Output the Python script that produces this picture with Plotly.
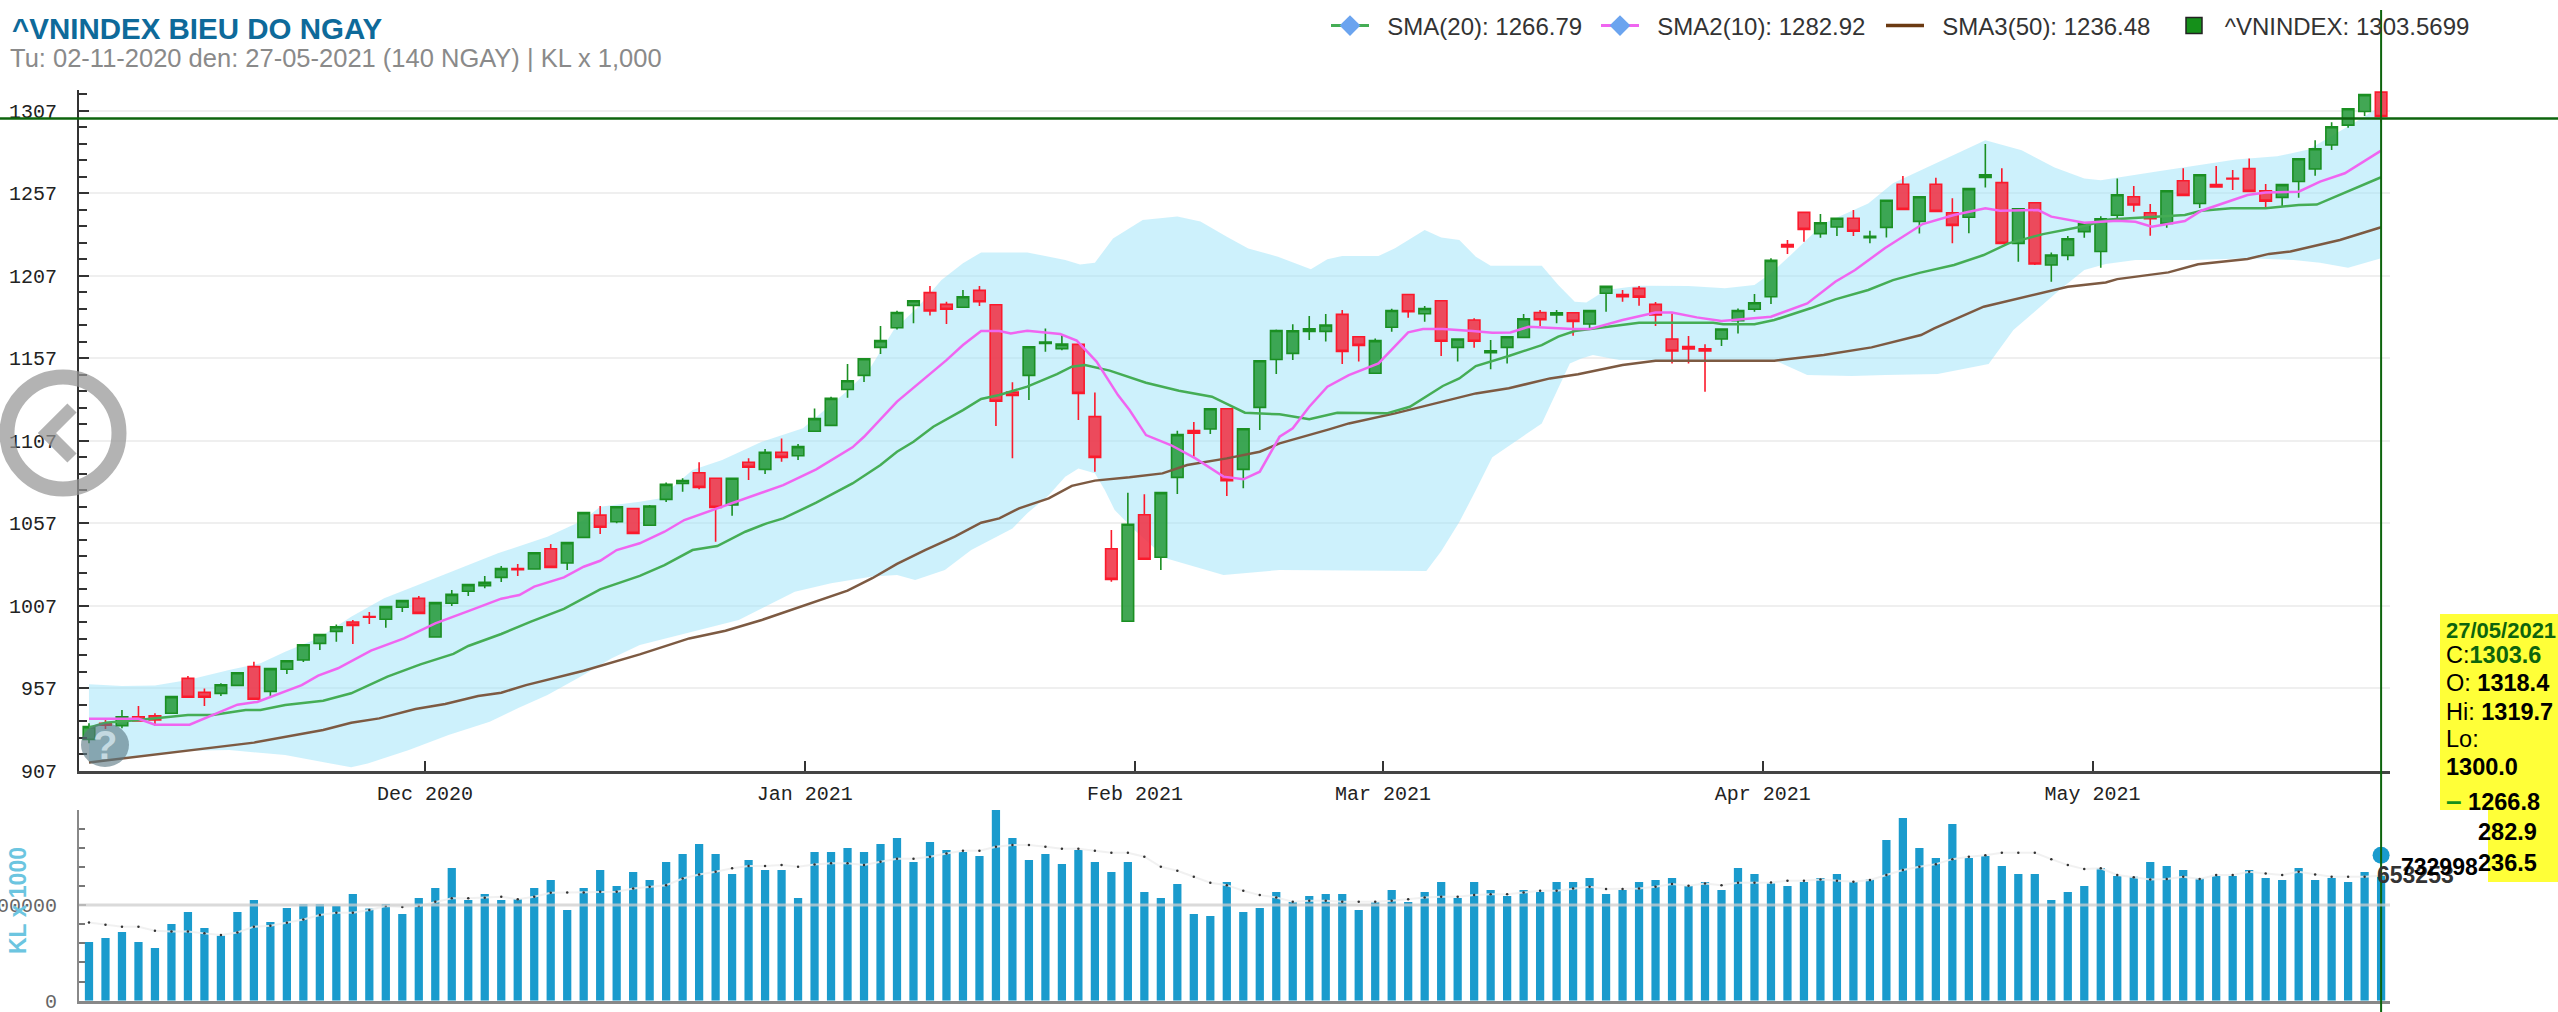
import plotly.graph_objects as go

W, H = 2558, 1012

# daily candles
opens = [925.9,935.6,934.2,939.6,940.1,941.7,962.9,954.4,953.8,958.6,970.0,955.0,968.4,974.0,984.1,991.4,997.1,1000.3,998.7,1006.0,
         1011.4,988.0,1008.4,1015.7,1019.1,1024.1,1029.4,1029.2,1041.5,1032.8,1048.4,1061.9,1057.9,1065.8,1055.7,1071.4,1081.1,1087.6,1084.2,1068.0,
         1093.9,1089.6,1100,1097.9,1112.7,1116.3,1138.1,1146.6,1163.6,1175.5,1189.1,1196.8,1189.7,1187.9,1198.2,1189.5,1136.5,1146.6,1166,1162.8,
         1165.4,1121.6,1041.5,997.5,1062.1,1036.3,1084.8,1113.1,1114.1,1126.4,1089.6,1127.2,1156.3,1160,1173.3,1173.3,1183.6,1170.1,1147.9,1175.8,
         1195.7,1184,1191.9,1163.6,1180.2,1160.4,1163.6,1169.7,1184.8,1183.2,1184.6,1177.8,1196.4,1195.6,1199.4,1189.7,1168.7,1164.1,1162.8,1168.7,
         1179.8,1186.7,1194.3,1225.9,1245.5,1232.6,1236.6,1241.9,1230.2,1236.4,1262.5,1240,1262.5,1245.3,1242.5,1266.7,1263.5,1226.7,1251.3,1213.6,
         1219.4,1233.8,1221.8,1243.7,1255,1245.3,1238.8,1264.7,1250.9,1262.3,1266.2,1272,1258.6,1254.6,1264.2,1271.8,1286.3,1298.4,1306.7,1318.4]
highs = [935.6,937.6,943.7,946.1,941.7,952.2,964.3,956.8,959.9,966.6,973.0,969.0,974.0,983.7,989.8,995.6,998.3,1003.1,1006.8,1010.4,
         1012.8,1009.2,1016.5,1020.1,1024.9,1031.0,1032.2,1039.5,1044.4,1045.6,1063.8,1067.4,1067.4,1066.4,1068.0,1081.7,1084.2,1093.9,1084.5,1084.5,
         1096.3,1102,1108.4,1105,1126.6,1133.7,1153.5,1157,1176.6,1185.8,1192,1200.9,1191.3,1198.4,1200.9,1189.8,1142.4,1164.4,1175.1,1171.5,
         1165.8,1136.3,1052.8,1075.5,1074.5,1075.9,1113.1,1118.3,1126.8,1126.8,1114.7,1155.9,1174.4,1177.6,1182.6,1183.8,1186.3,1170.5,1169,1187,
         1196,1188.7,1192.3,1169,1181.2,1168.1,1170.5,1183.8,1186.3,1186.3,1185,1186.2,1201,1198.4,1200.8,1191.1,1184.2,1170.5,1165.5,1175.2,
         1187.2,1196,1217.6,1228.7,1245.9,1244.5,1242.3,1246.9,1234.4,1253.2,1267.5,1255.4,1266.5,1254,1260.3,1286.9,1272.2,1248,1251.7,1221.2,
         1231.1,1239.2,1243.2,1266.1,1261.5,1250.5,1259,1272.2,1268.7,1273.6,1271.2,1278.2,1262.7,1262.7,1278.4,1289.3,1300.2,1308.7,1317.2,1319.7]
lows = [923.5,932.2,932.6,936.6,934.2,941.2,951.2,946.1,952.2,958.2,949.8,952.2,965.5,972.8,980.1,985.1,983.7,995.8,993.6,1003.1,
        1001.9,987.6,1006.8,1012.8,1017.5,1021.3,1024.9,1029.0,1029.8,1028.6,1048.0,1050.4,1056.9,1050.4,1055.3,1069.8,1076.1,1077.5,1045.8,1061.5,
        1083.2,1086.8,1094.3,1095.3,1112.3,1116,1133.1,1142.6,1159.6,1174.5,1178.2,1182.9,1177.8,1187.5,1188.7,1115.9,1096.3,1131.7,1161,1161.9,
        1119.5,1088.2,1021.5,997.2,1034.7,1028.6,1074.7,1097.3,1111.1,1073.5,1078.1,1113.5,1147.4,1155.9,1168.1,1167.1,1153.5,1155,1147.5,1173.1,
        1181.6,1179.2,1158.4,1155,1163.4,1150.3,1153.9,1169.3,1176.6,1178.2,1170.7,1175,1185.2,1191.3,1188.9,1176.6,1153.9,1153.9,1136.7,1164.4,
        1172.1,1185.2,1189.9,1220.2,1227.7,1230.1,1231.1,1231.1,1226.7,1230.3,1247,1232.7,1246,1226.7,1232.8,1260.6,1226.3,1215.6,1213.5,1203.4,
        1216.5,1230.1,1211.9,1241.9,1245.9,1231.3,1236.2,1255.4,1248.1,1260.5,1259,1257.8,1247.9,1249,1254.4,1267.7,1283.3,1296.8,1304,1300]
closes = [933.6,934.4,939.6,937.0,937.6,951.8,951.4,951.4,959.0,966.3,950.2,968.8,973.6,983.3,989.4,994.2,995.0,999.9,1006.4,1010.0,
          1002.3,1008.8,1013.8,1019.7,1021.1,1029.4,1028.8,1039.1,1030.2,1045.2,1063.4,1054.5,1067.0,1050.8,1067.4,1080.5,1082.9,1078.7,1066.6,1084.2,
          1090.9,1100,1096.9,1103.4,1120.4,1132.7,1143.4,1156.7,1167.7,1184.8,1191.9,1185.7,1186.7,1194.3,1191.3,1130.9,1134.5,1164,1166.9,1165.6,
          1135.7,1096.9,1022.9,1056.3,1035.1,1075.5,1110.7,1111.5,1126.4,1082.8,1114.3,1155.5,1173.8,1173.7,1174.9,1177.2,1161.2,1164.8,1167.7,1186,
          1185.2,1187.2,1167.3,1168.7,1167.3,1161.6,1170.1,1181,1180.4,1184.6,1179.4,1185.9,1200.6,1194.4,1194.1,1183.2,1161.4,1162.7,1161.4,1174.8,
          1186,1190.7,1216.4,1224.5,1235.2,1239.2,1241.9,1234,1231,1252.8,1247.3,1255,1246.1,1237.6,1259.9,1268.3,1226.7,1247.7,1214.2,1219.6,
          1229.5,1238.8,1241.6,1256.2,1250,1241.7,1258.6,1255.8,1268.3,1260.9,1265.8,1258.2,1252.3,1262.3,1278,1284.1,1297.4,1308.3,1316.9,1303.6]
days = list(range(len(closes)))

# volume and its average
volume = [306600,327500,358900,306600,275200,400700,463400,379800,339700,463400,526100,411100,484300,505200,505200,494700,557400,482500,505200,452900,
          536500,588800,693300,526100,557400,526100,531300,588800,630600,473800,588800,682900,599200,672400,630600,724700,766500,818700,766500,662000,
          735100,682900,682900,536500,777000,777000,797800,777000,818700,850100,724700,829200,787400,777000,756000,996400,850100,735100,766500,714200,
          787400,724700,672400,724700,567900,536500,609700,452900,442500,620200,463400,484300,567900,515600,547000,557400,557400,473800,515600,578300,
          515600,567900,620200,536500,620200,578300,547000,578300,567900,620200,620200,641100,557400,578300,620200,630600,641100,599200,620200,578300,
          693300,662000,613000,599200,620200,641100,662000,620200,634000,839600,954600,797800,745600,923300,745600,756000,703800,662000,662000,526100,
          567900,599200,693300,651500,648000,724700,703800,682900,641100,651500,651500,682900,641100,630600,693300,630600,641100,620200,672400,653253]
volume_avg = [409000,397000,387000,387000,366000,362000,362000,352000,343000,357000,387000,392000,408000,425000,448000,460000,460000,474000,495000,490000,
              495000,517000,535000,535000,538000,544000,531000,544000,564000,566000,566000,570000,570000,587000,596000,604000,639000,660000,674000,692000,
              704000,704000,709000,700000,712000,718000,718000,709000,726000,742000,742000,753000,770000,784000,784000,805000,814000,814000,805000,794000,
              794000,784000,773000,773000,753000,700000,679000,648000,617000,604000,575000,552000,540000,517000,523000,523000,517000,517000,517000,523000,
              531000,540000,544000,544000,552000,556000,556000,566000,575000,575000,587000,596000,584000,584000,587000,596000,610000,601000,613000,604000,
              617000,617000,618000,627000,627000,634000,627000,622000,631000,657000,683000,700000,714000,740000,753000,761000,773000,773000,773000,740000,
              709000,688000,692000,657000,645000,634000,636000,648000,636000,657000,657000,674000,665000,657000,674000,660000,648000,648000,648000,653000]
last_volume_marker = 760000

# moving averages, read at their visible bends
sma20_x = [0,1,3,6,7.5,9.5,10.4,11.9,14.2,15.9,18.1,20.1,22.1,23,25,26.8,28.8,31,33.4,34.9,36.6,38.1,39.8,41.1,42.1,44.1,46.3,48,49,50,51.2,53,54.1,55.2,56.9,58.7,59.6,60.4,61.9,64.1,66.1,68.1,70.1,72.2,74,75.7,78.7,80.1,82.1,83.1,84.1,86.1,88.1,89.1,90.1,92,94,98.5,99.1,101,102.2,104.4,105.9,107.9,109.4,111,113.1,114.9,116.4,118.5,120.8,122.5,125.1,127.1,128.1,129.9,132,134,135.1,136.5,139]
sma20_y = [933,936,937.6,940.7,940.7,943.7,943.7,946.7,949.3,953.8,963.9,971.4,977.7,982.5,989.8,997.3,1005,1016.9,1025,1031.6,1040.7,1043.1,1051.8,1056.9,1059.9,1069.4,1081.1,1092.3,1100.3,1106.4,1115.5,1125.6,1132.3,1134.7,1139.8,1147.4,1151.9,1152.9,1149.5,1142.2,1137.3,1133.7,1124,1123,1120,1124,1123.6,1127.6,1140.2,1144.8,1152.3,1158.4,1165,1170.1,1173.5,1176.1,1178.6,1178.6,1177.6,1177.6,1180.2,1187.3,1192.7,1198.4,1204.4,1208.8,1213.6,1219.6,1226.7,1232.3,1236.8,1241.2,1242.5,1243.9,1246.5,1248,1248,1250,1250.2,1256.1,1266.79]
sma10_x = [0,3,4,6.1,9,10.2,12.9,13.9,15.1,17.1,19.1,21,23,25,26.1,27,28.8,30,31,32,33.4,34.9,36.1,38.1,39.6,42.1,44.1,46.3,47,49,52,53,54.1,55.2,55.9,56.9,58.9,59.9,61.1,62.4,63.1,64.1,65.6,67.1,68.8,70,71,72.2,73,74,75.1,76.4,78.2,80,80.9,82.1,83.9,85.1,86.2,87.3,90,91,93,95,96,97.5,99,102,104.2,105.9,107.1,108.9,111.2,113.1,115,115.9,118.2,119,121,123,124.1,125.1,127.1,128.1,130.9,132,134,135.3,136.8,139]
sma10_y = [938.4,938.4,934.8,934.8,946.9,948.6,958.8,964.5,969,979.7,987.1,996.2,1003.7,1011.2,1013.4,1018.5,1024.1,1030.6,1034.2,1040.7,1044.8,1051.8,1058.9,1066,1071,1080.1,1089.6,1103,1109.4,1130.7,1155.9,1165,1173.5,1173.5,1172.1,1173.7,1171.7,1167.7,1155,1134.7,1125.6,1110.4,1104.4,1096.3,1085.2,1083.6,1088.2,1109.4,1114.5,1127.6,1139.8,1146.8,1153.9,1172.7,1174.7,1174.7,1173.5,1172.5,1172.7,1176.1,1174.7,1174.7,1180.2,1184.8,1184.8,1181.8,1179.6,1182.2,1190.3,1203.4,1210.5,1223.7,1238.4,1243.9,1248,1246.5,1246.9,1242.9,1239.2,1240.4,1239.8,1236.8,1240.2,1246.5,1256,1257.6,1258,1264.1,1269.2,1282.92]
sma50_x = [0,10,14.2,15.9,17.6,19.8,21.6,23.6,25,26.5,30,33.4,36.4,38.6,40.8,43.8,46,47.5,49,50.7,52.5,54.1,55.2,56.4,58.2,59.6,61,63.1,65.1,66.6,69,71,72.2,75.2,76.4,79.2,82.1,84.1,86.1,88.6,90.3,93,95,102.2,105.2,108.1,111.1,111.9,114.9,117.5,120,122.3,123,126.1,127.9,130.9,132.2,133.5,136.5,139]
sma50_y = [911.8,923.9,931.6,936,938.6,944.3,947.3,952.2,954.2,958.8,967.5,977.4,987.1,991.8,998.3,1008.4,1016.1,1023.6,1032.3,1040.7,1048.8,1057.3,1059.9,1066,1072,1079.6,1082.8,1084.8,1087.2,1092.3,1096.3,1100.3,1105.4,1113.9,1117.5,1123.6,1130.7,1135.7,1138.8,1144.8,1147.3,1152.9,1155.5,1155.5,1159,1163.6,1171.1,1175.1,1188.3,1194.3,1200.4,1203,1205,1209.1,1214,1217.2,1220.3,1221.7,1228.7,1236.48]

# bollinger band edges
band_up_x = [0,2,4,6,8.5,10.4,11.9,13.9,15.9,17.9,20.1,22.8,24.8,27.8,30,31,33.4,34.6,36.6,38.4,40.8,43.3,45.8,47.3,48.8,50.2,51.7,53,54.1,56.9,59.2,60.1,61,62.1,63.9,66,67.4,69,70.3,72.1,74.1,75.1,76,78.2,79.2,81,82,83.1,84.1,85,88.1,89.1,90.1,90.8,92,94,97,99.2,101,102,103.2,105.2,107.9,109.4,111.1,113.1,115,117.2,119.2,121,122,125.3,128.1,130.2,132.7,134.6,137.3,139]
band_up_y = [959.3,958.2,958.6,961.9,967.9,972,979,987.2,1000.2,1011.4,1020.1,1030.6,1038.7,1048.8,1058.9,1067,1070,1072,1089.2,1095.3,1106.4,1114.5,1135.7,1149.9,1174.1,1187.3,1204.5,1214.6,1221.2,1221.2,1216.6,1213.9,1214.9,1229.7,1240.9,1243,1239.9,1230.7,1223.6,1218.6,1211,1217,1219,1219,1223.7,1234.8,1230.3,1228.7,1218.6,1213.1,1213.1,1201.4,1191.3,1190.9,1198.4,1201,1200.8,1199.4,1201.4,1208.5,1219.6,1238.8,1250.9,1263.1,1271.1,1280.3,1289.3,1283.2,1272.7,1266.1,1265,1270.1,1274.1,1277.5,1279.5,1283.6,1299.4,1310]
band_lo_x = [0,3,6,8.5,11.9,15.9,16.9,19.4,21.8,24.3,26,27.8,29.8,31.7,33.4,39.4,42.8,45,47.5,49,50.1,51.9,53.5,56,56.9,58.2,59.2,60,61,61.6,62.2,63.4,65.3,68.8,72.2,81.1,82,83.1,84.1,85.1,88.1,89.1,89.8,90.5,91.2,92.8,95.3,102.2,104.2,106.9,108.9,112.1,115.2,116.7,119.5,121,122.3,124.1,127.6,130.9,133.7,135.3,137,139]
band_lo_y = [911,915.8,919,919.4,916.4,908.9,911.3,919.4,928.5,936.6,944.7,952.8,963.9,975,983.1,998.3,1015.4,1020.5,1024.6,1025.6,1022.5,1028.6,1040.7,1053.8,1063,1074,1085.2,1090.2,1087.2,1077.1,1065,1052.8,1035.7,1025.6,1028.6,1028,1040,1057.7,1077,1097,1117.5,1138.8,1153.9,1156.9,1159,1155.9,1155.9,1155.9,1146.8,1146.2,1146.8,1147.4,1153.5,1174.1,1198.4,1210.5,1214.2,1216.6,1216.6,1217.6,1216.6,1215,1211.9,1217.6]

month_ticks = [20.38,43.4,63.43,78.47,101.5,121.5]
month_labels = ['Dec 2020','Jan 2021','Feb 2021','Mar 2021','Apr 2021','May 2021']
price_range = [907, 1319.7]
crosshair_price = 1302.4
volume_range = [0, 997000]
day_range = [-0.606, 139.54]

legend_names = ['\u00a0\u00a0SMA(20): 1266.79','\u00a0\u00a0SMA2(10): 1282.92','\u00a0\u00a0SMA3(50): 1236.48','\u00a0^VNINDEX: 1303.5699']

GREEN = '#45ad55'
PINK = '#f065f0'
BROWN = '#7d5a42'
MONO = 'Liberation Mono'
SANS = 'Liberation Sans'


def px(x):
    return x / W


def py(y):
    return 1 - y / H


fig = go.Figure()

# band goes on the base axes so candles can sit on top of it
fig.add_trace(go.Scatter(x=band_up_x, y=band_up_y, mode='lines', line=dict(width=0), showlegend=False, hoverinfo='skip'))
fig.add_trace(go.Scatter(x=band_lo_x, y=band_lo_y, mode='lines', line=dict(width=0), fill='tonexty',
                         fillcolor='rgba(155,228,250,0.5)', showlegend=False, hoverinfo='skip'))

fig.add_trace(go.Candlestick(x=days, open=opens, high=highs, low=lows, close=closes, xaxis='x3', yaxis='y3',
                             increasing=dict(line=dict(color='#1a8f22', width=1.6), fillcolor='rgba(40,155,60,0.88)'),
                             decreasing=dict(line=dict(color='#fb1a2c', width=1.6), fillcolor='rgba(240,50,70,0.88)'),
                             whiskerwidth=0, showlegend=False))

fig.add_trace(go.Scatter(x=sma50_x, y=sma50_y, mode='lines', xaxis='x3', yaxis='y3', line=dict(color=BROWN, width=2.5), showlegend=False))
fig.add_trace(go.Scatter(x=sma20_x, y=sma20_y, mode='lines', xaxis='x3', yaxis='y3', line=dict(color=GREEN, width=2.5), showlegend=False))
fig.add_trace(go.Scatter(x=sma10_x, y=sma10_y, mode='lines', xaxis='x3', yaxis='y3', line=dict(color=PINK, width=2.5), showlegend=False))

# volume panel
fig.add_trace(go.Bar(x=days, y=volume, xaxis='x2', yaxis='y2', marker=dict(color='#1a9bcd', line=dict(width=0)), showlegend=False))
fig.add_trace(go.Scatter(x=days, y=volume_avg, xaxis='x2', yaxis='y2', mode='lines+markers',
                         line=dict(color='rgba(238,238,238,0.85)', width=2),
                         marker=dict(color='#333333', size=2.5), showlegend=False))
fig.add_trace(go.Scatter(x=[days[-1]], y=[last_volume_marker], xaxis='x2', yaxis='y2', mode='markers',
                         marker=dict(color='#1a9bcd', size=17), cliponaxis=False, showlegend=False))

# one legend per entry, the four sit at uneven spacing
legend_x = [1326, 1596, 1881, 2170]
legend_items = [dict(mode='lines+markers', line=dict(color=GREEN, width=3), marker=dict(symbol='diamond', size=18, color='#6ba4ef')),
                dict(mode='lines+markers', line=dict(color=PINK, width=3), marker=dict(symbol='diamond', size=18, color='#6ba4ef')),
                dict(mode='lines', line=dict(color='#6b3a12', width=3.5)),
                dict(mode='markers', marker=dict(symbol='square', size=18, color='#15901a', line=dict(color='#222222', width=1.5)))]
legends = {}
for i, name in enumerate(legend_names):
    key = 'legend' if i == 0 else 'legend%d' % (i + 1)
    fig.add_trace(go.Scatter(x=[None], y=[None], name=name, legend=key, showlegend=True, **legend_items[i]))
    legends[key] = dict(x=px(legend_x[i]), y=py(26), xanchor='left', yanchor='middle', bgcolor='rgba(0,0,0,0)',
                        font=dict(family=SANS, size=24, color='#333333'), itemwidth=38, itemclick=False)


def note(text, x, y, size=23.5, color='#000000', anchor='left', family=SANS, **kw):
    fig.add_annotation(text=text, x=px(x), y=py(y), xref='paper', yref='paper', xanchor=anchor, yanchor='middle',
                       showarrow=False, font=dict(family=family, size=size, color=color), **kw)


note('<b>^VNINDEX BIEU DO NGAY</b>', 10, 29, size=29.5, color='#0e6a9a')
note('Tu: 02-11-2020 den: 27-05-2021 (140 NGAY) | KL x 1,000', 8, 58, size=25.5, color='#8a8a8a')
note('<b>KL x 1000</b>', 18, 901, size=23, color='#6cc5e0', anchor='center', textangle=-90)

# yellow tooltip at the right edge
dash = '<span style="color:#15901a;font-size:28px"><b>–</b></span>'
note('<b>27/05/2021</b>', 2444, 630, size=22, color='#0d640d')
note('C:<b><span style="color:#0d640d">1303.6</span></b>', 2444, 655)
note('O: <b>1318.4</b>', 2444, 683)
note('Hi: <b>1319.7</b>', 2444, 712)
note('Lo:', 2444, 739)
note('<b>1300.0</b>', 2444, 767)
note(dash + ' <b>1266.8</b>', 2444, 800)
note('<b>282.9</b>', 2539, 832, anchor='right')
note('<b>236.5</b>', 2539, 863, anchor='right')

note('<b>653253</b>', 2375, 875, size=23, color='#333333')
note('<b>732998</b>', 2399, 867, size=23)

note('<b>?</b>', 105, 745, size=40, color='rgba(205,225,232,0.9)', anchor='center')

shapes = [
    dict(type='rect', xref='paper', yref='paper', x0=px(2440), x1=px(2558), y0=py(882), y1=py(614), fillcolor='#ffff38', line=dict(width=0), layer='above'),
    dict(type='rect', xref='paper', yref='paper', x0=px(2430), x1=px(2488), y0=py(882), y1=py(810), fillcolor='#ffffff', line=dict(width=0), layer='above'),
    # crosshair on the last day
    dict(type='line', xref='x', yref='paper', x0=days[-1], x1=days[-1], y0=0, y1=py(10), line=dict(color='#0d640d', width=2), layer='above'),
    dict(type='line', xref='paper', yref='y', x0=0, x1=1, y0=crosshair_price, y1=crosshair_price, line=dict(color='#0d640d', width=2.5), layer='above'),
    dict(type='line', xref='x2', yref='y2', x0=day_range[0], x1=day_range[1], y0=500000, y1=500000, line=dict(color='rgba(205,205,205,0.75)', width=3), layer='above'),
    # page overlay buttons
    dict(type='circle', xref='paper', yref='paper', x0=px(7), x1=px(119), y0=py(489), y1=py(377), line=dict(color='rgba(150,150,150,0.72)', width=15), layer='above'),
    dict(type='path', xref='paper', yref='paper', path='M %f %f L %f %f L %f %f' % (px(72), py(408), px(47), py(433), px(72), py(458)),
         line=dict(color='rgba(150,150,150,0.72)', width=13), layer='above'),
    dict(type='circle', xref='paper', yref='paper', x0=px(81), x1=px(129), y0=py(767), y1=py(723), fillcolor='rgba(90,120,130,0.62)', line=dict(width=0), layer='above'),
]

plot_x = [px(79), px(2390)]
price_y = [py(770.5), py(90)]
volume_y = [py(1000.7), py(810)]

fig.update_layout(
    width=W, height=H, margin=dict(l=0, r=0, t=0, b=0, autoexpand=False), autosize=False,
    paper_bgcolor='white', plot_bgcolor='white', bargap=0.5, boxgap=0.3, boxgroupgap=0, shapes=shapes, hovermode=False,
    xaxis=dict(domain=plot_x, range=day_range, tickmode='array', tickvals=month_ticks, ticktext=month_labels,
               ticks='inside', ticklen=10, tickwidth=2, tickcolor='#333333', showgrid=False, zeroline=False,
               showline=True, linecolor='#444444', linewidth=3, anchor='y', rangeslider=dict(visible=False),
               tickfont=dict(family=MONO, size=20, color='#222222'), ticklabelstandoff=2),
    yaxis=dict(domain=price_y, range=price_range, tick0=907, dtick=50, ticks='inside', ticklen=10, tickwidth=2,
               tickcolor='#333333', showgrid=True, gridcolor='#efefef', gridwidth=2, zeroline=False, showline=True,
               linecolor='#333333', linewidth=2, anchor='x', tickfont=dict(family=MONO, size=20, color='#222222'),
               minor=dict(ticks='inside', dtick=10, tick0=907, ticklen=8, tickwidth=2, tickcolor='#333333', showgrid=False),
               ticklabelstandoff=16),
    xaxis2=dict(domain=plot_x, range=day_range, showticklabels=False, ticks='', showgrid=False, zeroline=False,
                showline=True, linecolor='#888888', linewidth=3, anchor='y2'),
    yaxis2=dict(domain=volume_y, range=volume_range, tickmode='array', tickvals=[0, 500000], ticktext=['0', '500000'],
                ticks='inside', ticklen=7, tickwidth=1.5, tickcolor='#777777', showgrid=False, zeroline=False,
                showline=True, linecolor='#888888', linewidth=2, anchor='x2', tickfont=dict(family=MONO, size=20, color='#666666'),
                minor=dict(ticks='inside', tickmode='array', tickvals=[100000, 200000, 300000, 400000, 600000, 700000, 800000, 900000],
                           ticklen=6, tickwidth=1.5, tickcolor='#777777', showgrid=False),
                ticklabelstandoff=16, ticklabeloverflow='allow'),
    xaxis3=dict(domain=plot_x, range=day_range, overlaying='x', visible=False, anchor='y3', rangeslider=dict(visible=False)),
    yaxis3=dict(domain=price_y, range=price_range, overlaying='y', visible=False, anchor='x3'),
    **legends,
)

fig.write_html("out.html", config=dict(displayModeBar=False),
               post_script="document.body.style.margin='0';document.body.style.overflow='hidden';")
